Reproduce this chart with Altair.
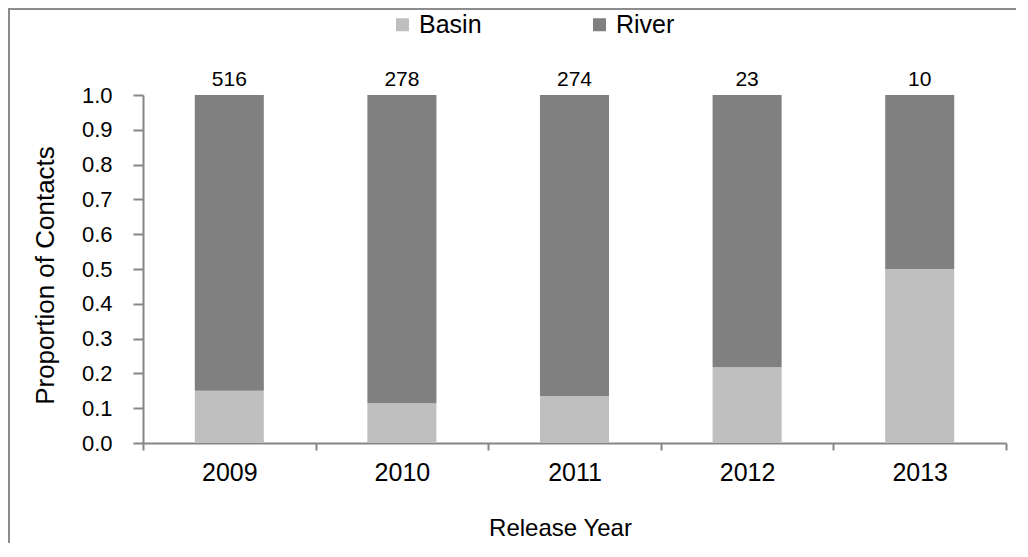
import altair as alt
import pandas as pd

years = ["2009", "2010", "2011", "2012", "2013"]
basin = [0.15, 0.114, 0.135, 0.218, 0.50]
river = [0.85, 0.886, 0.865, 0.782, 0.50]
counts = [516, 278, 274, 23, 10]
series = ["Basin", "River"]
colors = ["#bfbfbf", "#808080"]
y_ticks = [0.0, 0.1, 0.2, 0.3, 0.4, 0.5, 0.6, 0.7, 0.8, 0.9, 1.0]

FONT = "Liberation Sans"
AXC = "#868686"

rows = []
for i, yr in enumerate(years):
    rows.append({"year": yr, "series": "Basin", "value": basin[i], "ord": 0})
    rows.append({"year": yr, "series": "River", "value": river[i], "ord": 1})
df = pd.DataFrame(rows)
lab = pd.DataFrame({"year": years, "n": counts})

x_axis = alt.Axis(
    title="Release Year", titleFont=FONT, titleFontSize=24, titleFontWeight="normal",
    titleColor="black", titleY=92, titleX=417, titleBaseline="alphabetic",
    labelAngle=0, labelFont=FONT, labelFontSize=25, labelColor="black", labelPadding=10,
    labelOverlap=False,
    tickBand="extent", tickSize=7, tickColor=AXC, tickWidth=2,
    domainColor=AXC, domainWidth=2,
)
y_axis = alt.Axis(
    values=y_ticks, format=".1f", grid=False, labelOverlap=False,
    title="Proportion of Contacts", titleFont=FONT, titleFontSize=26,
    titleFontWeight="normal", titleColor="black", titleX=-90, titleY=180,
    titleBaseline="alphabetic", titleAlign="center", titleAngle=270,
    labelFont=FONT, labelFontSize=22, labelColor="black", labelPadding=21,
    tickSize=10, tickColor=AXC, tickWidth=2, domainColor=AXC, domainWidth=2,
)
x_scale = alt.Scale(paddingInner=0, paddingOuter=0)
y_scale = alt.Scale(domain=[0, 1], nice=False)

bars = alt.Chart(df).mark_bar(width=alt.RelativeBandSize(0.4)).encode(
    x=alt.X("year:N", sort=years, scale=x_scale, axis=x_axis),
    y=alt.Y("value:Q", stack="zero", scale=y_scale, axis=y_axis),
    color=alt.Color(
        "series:N",
        scale=alt.Scale(domain=series, range=colors),
        legend=alt.Legend(
            title=None, orient="none", legendX=247, legendY=-83, direction="horizontal",
            symbolType="square", symbolSize=169, symbolStrokeWidth=0, symbolOpacity=1,
            labelFont=FONT, labelFontSize=25, labelColor="black", labelOffset=4,
            columnPadding=105, padding=0,
        ),
    ),
    order=alt.Order("ord:Q"),
)

texts = alt.Chart(lab).mark_text(
    font=FONT, fontSize=21, dy=-9, baseline="alphabetic", color="black"
).encode(
    x=alt.X("year:N", sort=years, scale=x_scale, axis=x_axis),
    y=alt.YDatum(1.0, scale=y_scale, axis=y_axis),
    text="n:Q",
)

one = pd.DataFrame({"k": [0]})
top_rule = alt.Chart(one).mark_rule(color="#8c8c8c", strokeWidth=2).encode(
    x=alt.value(-135), x2=alt.value(900), y=alt.value(-86)
)
left_rule = alt.Chart(one).mark_rule(color="#8c8c8c", strokeWidth=2).encode(
    x=alt.value(-134), y=alt.value(-87), y2=alt.value(600)
)

chart = alt.layer(bars, texts, top_rule, left_rule).properties(
    width=863, height=348,
    padding={"left": 135, "top": 87, "right": 10, "bottom": 100},
    autosize="none",
).configure_view(stroke=None).configure_axisY(
    labelOverlap=False, values=y_ticks
)

chart.save("out.html", embed_options={"renderer": "svg", "actions": False})
